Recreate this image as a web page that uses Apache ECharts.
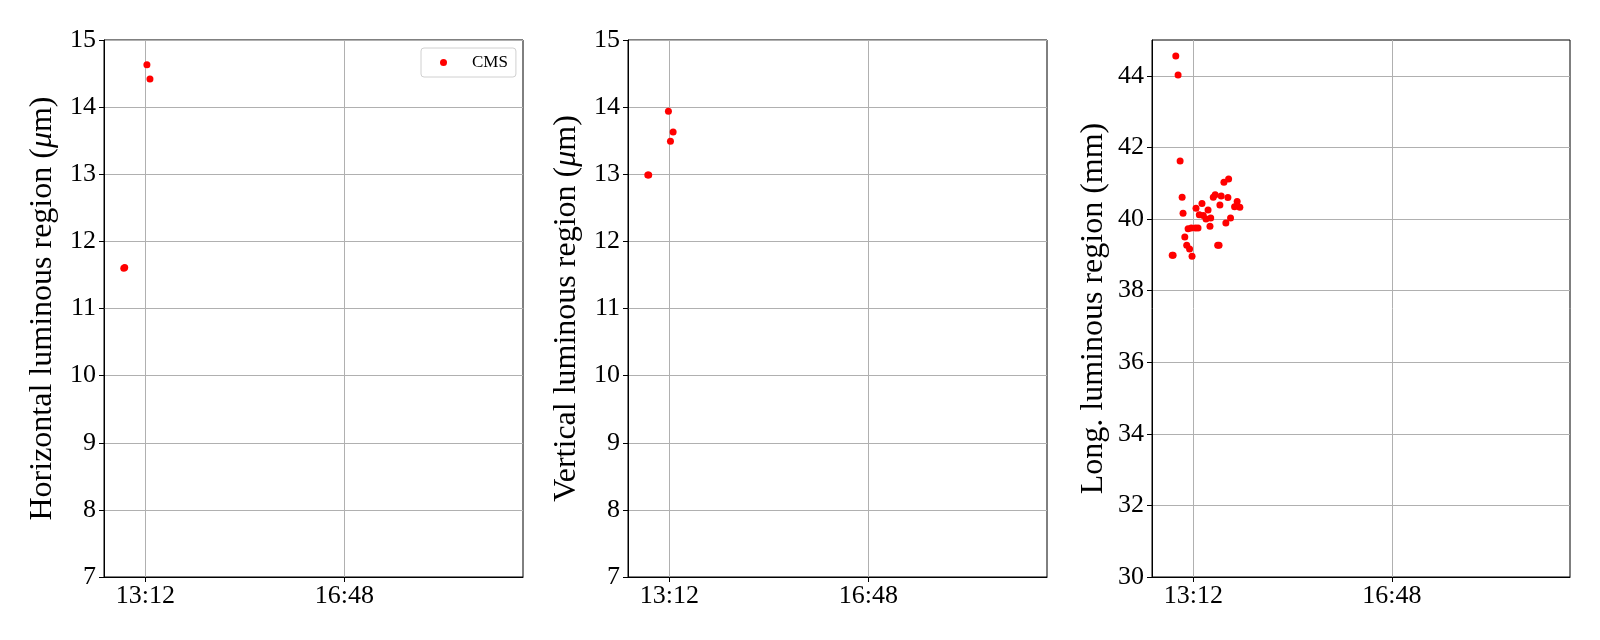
<!DOCTYPE html>
<html>
<head>
<meta charset="utf-8">
<script src="https://cdn.jsdelivr.net/npm/echarts@6/dist/echarts.min.js"></script>
<style>
html,body{margin:0;padding:0;background:#fff;}
#chart{width:1600px;height:640px;}
</style>
</head>
<body>
<div id="chart"></div>
<script>
// ---- data (time of day, value) ----
const hTimes = ["12:48:30", "12:49:30", "13:13:36", "13:16:54"];
const hValues = [11.60, 11.61, 14.63, 14.42];

const vTimes = ["12:48:30", "12:49:30", "13:10:54", "13:13:06", "13:16:00"];
const vValues = [12.99, 12.99, 13.94, 13.49, 13.63];

const lTimes = ["12:49:00", "12:50:00", "12:52:54", "12:55:24", "12:57:36", "12:59:48", "13:00:48",
  "13:02:42", "13:04:48", "13:07:54", "13:10:36", "13:06:18", "13:09:48", "13:14:12", "13:17:06",
  "13:14:54", "13:18:30", "13:21:24", "13:22:48", "13:25:48", "13:28:00", "13:30:06", "13:30:54",
  "13:33:42", "13:35:48", "13:38:30", "13:40:00", "13:40:54", "13:42:18", "13:45:18", "13:47:24",
  "13:49:36", "13:50:24", "13:52:30", "13:56:54", "13:59:42", "14:02:36"];
const lValues = [38.99, 38.99, 44.55, 44.02, 41.62, 40.61, 40.16,
  39.50, 39.27, 39.16, 38.96, 39.73, 39.75, 39.75, 39.75,
  40.30, 40.12, 40.43, 40.10, 40.00, 40.25, 39.80, 40.03,
  40.61, 40.68, 39.27, 39.27, 40.39, 40.64, 41.03, 39.89,
  40.60, 41.12, 40.03, 40.34, 40.49, 40.33];

const xTickLabels = ["13:12", "16:48"];
const xRange = ["12:27:00", "20:02:00"];
const hTicks = [7, 8, 9, 10, 11, 12, 13, 14, 15];
const lTicks = [30, 32, 34, 36, 38, 40, 42, 44];

// ---- helpers ----
function toMin(s) {
  const p = s.split(':').map(Number);
  return p[0] * 60 + p[1] + (p[2] || 0) / 60;
}
function fmt(v) {
  const m = Math.round(v);
  const h = Math.floor(m / 60), mm = m % 60;
  return String(h).padStart(2, '0') + ':' + String(mm).padStart(2, '0');
}
function pairs(ts, vs) { return ts.map((t, i) => [toMin(t), vs[i]]); }

const FONT = "'Liberation Serif', 'Times New Roman', serif";
const xTickVals = xTickLabels.map(toMin);

const grids = [
  {left: 104, top: 40, width: 419, height: 537},
  {left: 628, top: 40, width: 419, height: 537},
  {left: 1152, top: 40, width: 418, height: 537}
].map(g => Object.assign(g, {show: true, borderColor: '#000', borderWidth: 1, containLabel: false}));

const gridLine = {show: true, lineStyle: {color: '#b0b0b0', width: 1}};
const axisLine = {show: true, onZero: false, lineStyle: {color: '#000', width: 1}};
const tick = {show: true, inside: false, length: 5, lineStyle: {color: '#000', width: 1}};

const xAxes = [0, 1, 2].map(i => ({
  type: 'value', gridIndex: i,
  min: toMin(xRange[0]), max: toMin(xRange[1]),
  axisLine: axisLine,
  axisTick: Object.assign({}, tick, {customValues: xTickVals}),
  axisLabel: {customValues: xTickVals, formatter: fmt, color: '#000', fontFamily: FONT, fontSize: 26, margin: 6},
  splitLine: gridLine
}));

const nameStyle = {
  color: '#000', fontFamily: FONT, fontSize: 32,
  rich: {i: {fontFamily: FONT, fontStyle: 'italic', fontSize: 32, color: '#000'}}
};
const yLabel = {color: '#000', fontFamily: FONT, fontSize: 26, margin: 8};

const yAxes = [
  {type: 'value', gridIndex: 0, min: hTicks[0], max: hTicks[hTicks.length - 1], interval: 1,
   name: 'Horizontal luminous region ({i|μ}m)', nameLocation: 'middle', nameGap: 45, nameRotate: 90,
   nameTextStyle: nameStyle, axisLine: axisLine, axisTick: tick, axisLabel: yLabel, splitLine: gridLine},
  {type: 'value', gridIndex: 1, min: hTicks[0], max: hTicks[hTicks.length - 1], interval: 1,
   name: 'Vertical luminous region ({i|μ}m)', nameLocation: 'middle', nameGap: 45, nameRotate: 90,
   nameTextStyle: nameStyle, axisLine: axisLine, axisTick: tick, axisLabel: yLabel, splitLine: gridLine},
  {type: 'value', gridIndex: 2, min: 30, max: 45,
   name: 'Long. luminous region (mm)', nameLocation: 'middle', nameGap: 42, nameRotate: 90,
   nameTextStyle: nameStyle, axisLine: axisLine,
   axisTick: Object.assign({}, tick, {customValues: lTicks}),
   axisLabel: Object.assign({}, yLabel, {customValues: lTicks}), splitLine: gridLine}
];

const sc = (i, data) => ({
  type: 'scatter', name: 'CMS', xAxisIndex: i, yAxisIndex: i,
  data: data, symbol: 'circle', symbolSize: 7,
  itemStyle: {color: '#ff0000', opacity: 1}, silent: true
});

const chart = echarts.init(document.getElementById('chart'), null, {renderer: 'canvas'});
chart.setOption({
  animation: false,
  backgroundColor: '#fff',
  grid: grids,
  xAxis: xAxes,
  yAxis: yAxes,
  legend: {
    data: ['CMS'], left: 421, top: 48, orient: 'vertical',
    itemWidth: 7, itemHeight: 7, icon: 'circle',
    padding: [6, 8, 6, 19],
    borderColor: '#d0d0d0', borderWidth: 1, borderRadius: 3,
    backgroundColor: '#fff',
    textStyle: {color: '#000', fontFamily: FONT, fontSize: 17, padding: [0, 0, 0, 20]},
    selectedMode: false
  },
  series: [sc(0, pairs(hTimes, hValues)), sc(1, pairs(vTimes, vValues)), sc(2, pairs(lTimes, lValues))]
});
</script>
</body>
</html>
